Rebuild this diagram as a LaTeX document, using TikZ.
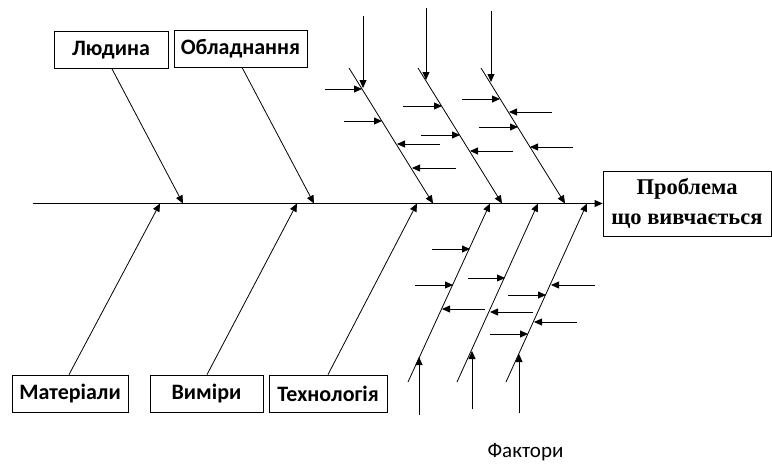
\documentclass[tikz,border=0pt]{standalone}
\usepackage{fontspec}
\setmainfont{Carlito}
\newfontfamily\probfont{Liberation Serif}
\usetikzlibrary{arrows.meta}
\begin{document}
\begin{tikzpicture}[x=1pt,y=-1pt,
  ln/.style={line width=0.8pt,black},
  arr/.style={ln,-{Triangle[length=8pt,width=7pt]}},
  lbl/.style={draw,line width=0.8pt,inner sep=0pt,minimum height=37pt,font=\bfseries\fontsize{22}{26}\selectfont},
  probbox/.style={draw,line width=0.8pt,inner sep=0pt,minimum width=168pt,minimum height=65pt,align=center,font=\probfont\bfseries\fontsize{22.5}{30}\selectfont}]
\useasboundingbox (0,0) rectangle (772,466);
% boxes
\node[lbl,minimum width=114pt] (lud) at (111,50) {Людина};
\node[lbl,minimum width=133pt] (obl) at (240.5,48.5) {Обладнання};
\node[lbl,minimum width=116pt] (mat) at (70,393.5) {Матеріали};
\node[lbl,minimum width=113pt] (vym) at (206.5,393.5) {Виміри};
\node[lbl,minimum width=118pt] (tech) at (328,393.5) {Технологія};
\node[probbox] (prob) at (687,203.5) {Проблема\\що вивчається};
\node[font=\fontsize{21}{24}\selectfont,inner sep=0pt] (fakt) at (525.5,452) {Фактори};
% spine
\coordinate (sp0) at (33,203.5);
\draw[arr] (sp0) -- (prob.west);
% label connectors
\coordinate (ludt) at (183,203.5);
\coordinate (oblt) at (314,203.5);
\coordinate (matt) at (160,203.5);
\coordinate (vymt) at (297,203.5);
\coordinate (techt) at (417,203.5);
\draw[arr] (lud.south) ++(1,0) coordinate (luds) -- (ludt);
\draw[arr] (obl.south) ++(1.5,0) coordinate (obls) -- (oblt);
\draw[arr] (mat.north) ++(-1,0) coordinate (matn) -- (matt);
\draw[arr] (vym.north) ++(0.5,0) coordinate (vymn) -- (vymt);
\draw[arr] (tech.north) coordinate (techn) -- (techt);
% factor bones
\foreach \n/\xa/\ya/\xb/\yb in {bt1/349/68/433/203.5, bt2/418/68/502/203.5, bt3/481/68/565/203.5,
   bb1/408/382/490/203.5, bb2/457/382/538/203.5, bb3/506/382/587/203.5} {
  \coordinate (\n a) at (\xa,\ya);
  \coordinate (\n b) at (\xb,\yb);
  \draw[arr] (\n a) -- (\n b);
}
% horizontal sub-factor arrows
\foreach \n/\xa/\y/\xb in {h1/325/89/362, h2/344/121/382, h3/440/144/397, h4/456/168/412,
   h5/403/106/442, h6/421/135/460, h7/513/151/470,
   h8/462/99/500, h9/552/112/509, h10/479/127/518, h11/573/147/530,
   h12/432/249/470, h13/415/285/453, h14/485/309/442,
   h15/468/278/505, h16/533/312/490,
   h17/595/285/551, h18/508/295/546, h19/577/322/534, h20/490/334/528} {
  \coordinate (\n a) at (\xa,\y);
  \coordinate (\n b) at (\xb,\y);
  \draw[arr] (\n a) -- (\n b);
}
% vertical sub-factor arrows
\foreach \n/\x/\ya/\yb in {v1/363/16/88, v2/426/8/80, v3/491/11/82,
   v4/419/415/357, v5/472/409/351, v6/519/413/354} {
  \coordinate (\n a) at (\x,\ya);
  \coordinate (\n b) at (\x,\yb);
  \draw[arr] (\n a) -- (\n b);
}
\end{tikzpicture}
\end{document}
